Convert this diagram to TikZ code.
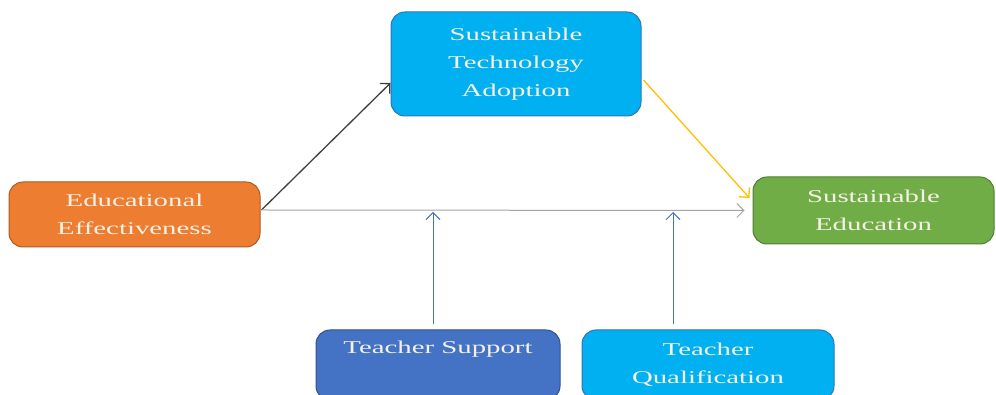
\documentclass[tikz,border=0pt]{standalone}
\usepackage{fontspec}
\setmainfont{Liberation Serif}[FakeStretch=1.6]
\usetikzlibrary{arrows.meta,calc}
\definecolor{cyanbox}{HTML}{00B0F0}
\definecolor{cyanedge}{HTML}{2E75B6}
\definecolor{orangebox}{HTML}{ED7D31}
\definecolor{orangeedge}{HTML}{AE5A21}
\definecolor{greenbox}{HTML}{70AD47}
\definecolor{greenedge}{HTML}{507E32}
\definecolor{bluebox}{HTML}{4472C4}
\definecolor{blueedge}{HTML}{2F528F}
\definecolor{txtcol}{HTML}{F4F1E4}
\definecolor{goldline}{HTML}{FFC000}
\definecolor{grayline}{HTML}{A5A5A5}
\definecolor{darkline}{HTML}{404040}
\tikzset{
  box/.style={draw, line width=1pt, rounded corners=14pt, align=center,
    text=txtcol, font=\fontsize{18}{28}\selectfont, inner sep=0pt},
  conn/.style={-{Straight Barb[length=7pt,width=14pt]}, line width=1.3pt},
}
\begin{document}
\begin{tikzpicture}[x=1pt,y=1pt]
\useasboundingbox[fill=white] (0,0) rectangle (996,395);
\node[box, fill=cyanbox, draw=cyanedge, minimum width=250, minimum height=104] (sta) at (516,331)
  {Sustainable\\Technology\\Adoption};
\node[box, fill=orangebox, draw=orangeedge, minimum width=251, minimum height=65] (ee) at (134.5,180.5)
  {Educational\\Effectiveness};
\node[box, fill=greenbox, draw=greenedge, minimum width=241, minimum height=67] (se) at (873.5,184.5)
  {Sustainable\\Education};
\node[box, fill=bluebox, draw=blueedge, minimum width=244, minimum height=70] (ts) at (438,30)
  {Teacher Support\\\strut};
\node[box, fill=cyanbox, draw=cyanedge, minimum width=252, minimum height=70] (tq) at (708,30)
  {Teacher\\Qualification};
\coordinate (eeout) at ($(ee.east)+(1,4.5)$);
\coordinate (tsin) at (433,183);
\coordinate (tqin) at (673,183);
\draw[conn, draw=darkline] (eeout) -- ($(sta.west)+(0,-19)$);
\draw[conn, draw=goldline] ($(sta.east)+(2,-16)$) -- ($(se.west)+(-3,12.5)$);
\draw[conn, draw=grayline, line width=1pt] (eeout) -- ($(se.west)+(-8,0)$);
\draw[conn, draw=bluebox, line width=1pt] ($(ts.north)+(-5,5)$) -- (tsin);
\draw[conn, draw=bluebox, line width=1pt] ($(tq.north)+(-35,5)$) -- (tqin);
\end{tikzpicture}
\end{document}
